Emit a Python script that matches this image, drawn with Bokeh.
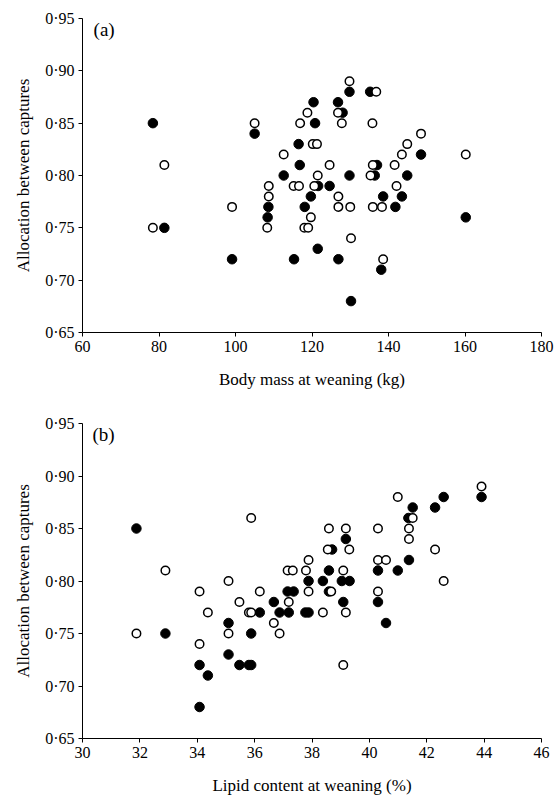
from bokeh.plotting import figure
from bokeh.layouts import column
from bokeh.models import FixedTicker, CustomJSTickFormatter, Range1d, Label
from bokeh.embed import file_html
from bokeh.resources import INLINE

FONT = "Liberation Serif"

# ---------------- data: panel (a) body mass ----------------
a_filled_x = [78.4, 81.4, 99.1, 105.0, 108.4, 108.6, 112.6, 115.3, 116.5, 116.8, 118.1,
              119.7, 120.4, 120.8, 121.5, 121.6, 124.6, 126.8, 126.9, 128.0, 129.8, 129.8,
              130.2, 135.2, 136.4, 137.0, 138.1, 138.6, 141.8, 143.5, 144.9, 148.5, 160.2]
a_filled_y = [0.85, 0.75, 0.72, 0.84, 0.76, 0.77, 0.80, 0.72, 0.83, 0.81, 0.77,
              0.78, 0.87, 0.85, 0.73, 0.79, 0.79, 0.87, 0.72, 0.86, 0.88, 0.80,
              0.68, 0.88, 0.80, 0.81, 0.71, 0.78, 0.77, 0.78, 0.80, 0.82, 0.76]
a_open_x = [78.4, 81.4, 99.1, 105.0, 108.3, 108.7, 108.7, 112.6, 115.2, 116.6, 116.9,
            118.0, 118.8, 119.0, 119.7, 120.2, 120.6, 121.3, 121.5, 124.6, 126.8, 126.9,
            126.9, 127.8, 129.8, 130.0, 130.2, 135.3, 135.8, 135.9, 135.9, 136.8, 138.3,
            138.6, 141.6, 142.1, 143.5, 144.9, 148.5, 160.2]
a_open_y = [0.75, 0.81, 0.77, 0.85, 0.75, 0.79, 0.78, 0.82, 0.79, 0.79, 0.85,
            0.75, 0.86, 0.75, 0.76, 0.83, 0.79, 0.83, 0.80, 0.81, 0.86, 0.78,
            0.77, 0.85, 0.89, 0.77, 0.74, 0.80, 0.85, 0.81, 0.77, 0.88, 0.77,
            0.72, 0.81, 0.79, 0.82, 0.83, 0.84, 0.82]

# ---------------- data: panel (b) lipid content ----------------
b_filled_x = [31.88, 32.89, 34.08, 34.08, 34.37, 35.09, 35.09, 35.47, 35.80, 35.88, 35.88,
              36.18, 36.67, 36.87, 37.15, 37.19, 37.36, 37.77, 37.88, 37.88, 38.38, 38.59,
              38.59, 38.70, 39.04, 39.09, 39.18, 39.31, 40.30, 40.30, 40.58, 40.99, 41.36,
              41.38, 41.51, 42.29, 42.59, 43.91]
b_filled_y = [0.85, 0.75, 0.72, 0.68, 0.71, 0.76, 0.73, 0.72, 0.72, 0.72, 0.75,
              0.77, 0.78, 0.77, 0.79, 0.77, 0.79, 0.77, 0.77, 0.80, 0.80, 0.81,
              0.79, 0.83, 0.80, 0.78, 0.84, 0.80, 0.81, 0.78, 0.76, 0.81, 0.86,
              0.82, 0.87, 0.87, 0.88, 0.88]
b_open_x = [31.88, 32.89, 34.08, 34.08, 34.37, 35.09, 35.09, 35.47, 35.80, 35.88, 35.88,
            36.18, 36.67, 36.87, 37.15, 37.19, 37.33, 37.79, 37.88, 37.88, 38.38, 38.55,
            38.59, 38.67, 39.09, 39.09, 39.18, 39.18, 39.30, 40.30, 40.30, 40.30, 40.58,
            40.99, 41.38, 41.38, 41.51, 42.29, 42.59, 43.91]
b_open_y = [0.75, 0.81, 0.79, 0.74, 0.77, 0.80, 0.75, 0.78, 0.77, 0.77, 0.86,
            0.79, 0.76, 0.75, 0.81, 0.78, 0.81, 0.81, 0.82, 0.79, 0.77, 0.83,
            0.85, 0.79, 0.81, 0.72, 0.85, 0.77, 0.83, 0.85, 0.82, 0.79, 0.82,
            0.88, 0.85, 0.84, 0.86, 0.83, 0.80, 0.89]

y_ticks = [0.65, 0.70, 0.75, 0.80, 0.85, 0.90, 0.95]
a_x_ticks = [60, 80, 100, 120, 140, 160, 180]
b_x_ticks = [30, 32, 34, 36, 38, 40, 42, 44, 46]

Y_LABEL = "Allocation between captures"
A_X_LABEL = "Body mass at weaning (kg)"
B_X_LABEL = "Lipid content at weaning (%)"


def make_panel(x_range, x_ticks, x_label, tag, tag_x, fx, fy, ox, oy,
               height, top, bottom):
    p = figure(width=557, height=height,
               x_range=Range1d(*x_range), y_range=Range1d(0.65, 0.95),
               output_backend="svg", toolbar_location=None,
               min_border_left=82, min_border_right=16,
               min_border_top=top, min_border_bottom=bottom)
    p.outline_line_color = None
    p.grid.visible = False
    p.background_fill_color = "white"
    p.border_fill_color = "white"

    p.xaxis.ticker = FixedTicker(ticks=x_ticks, minor_ticks=[])
    p.yaxis.ticker = FixedTicker(ticks=y_ticks, minor_ticks=[])
    p.yaxis.formatter = CustomJSTickFormatter(
        code="return tick.toFixed(2).replace('.', '\\u00b7');")

    for ax in (p.xaxis, p.yaxis):
        ax.axis_line_color = "black"
        ax.axis_line_width = 1
        ax.major_tick_in = 0
        ax.major_tick_out = 4
        ax.minor_tick_in = 0
        ax.minor_tick_out = 0
        ax.major_tick_line_color = "black"
        ax.major_label_text_font = FONT
        ax.major_label_text_font_size = "16px"
        ax.major_label_text_color = "black"
        ax.axis_label_text_font = FONT
        ax.axis_label_text_font_size = "17px"
        ax.axis_label_text_font_style = "normal"
        ax.axis_label_text_color = "black"
        ax.major_label_standoff = 4

    p.xaxis.axis_label = x_label
    p.yaxis.axis_label = Y_LABEL
    p.xaxis.axis_label_standoff = 15
    p.yaxis.axis_label_standoff = 9

    p.scatter(fx, fy, size=9.5, marker="circle", fill_color="black",
              line_color="black", line_width=1)
    p.scatter(ox, oy, size=8.5, marker="circle", fill_color="white",
              line_color="black", line_width=1.5)

    p.add_layout(Label(x=tag_x, y=0.95, text=tag, text_font=FONT,
                       text_font_size="19px", text_baseline="top",
                       text_align="left", text_color="black"))
    return p


pa = make_panel((60, 180), a_x_ticks, A_X_LABEL, "(a)", 62.9,
                a_filled_x, a_filled_y, a_open_x, a_open_y,
                height=400, top=18, bottom=68)
pb = make_panel((30, 46), b_x_ticks, B_X_LABEL, "(b)", 30.35,
                b_filled_x, b_filled_y, b_open_x, b_open_y,
                height=401, top=23, bottom=63)

layout = column(pa, pb, spacing=0)
open("out.html", "w").write(file_html(layout, INLINE))
